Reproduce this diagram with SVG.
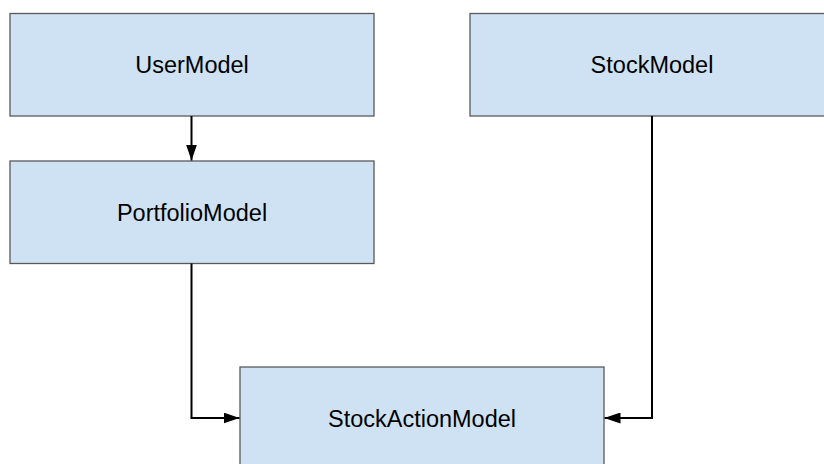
<svg xmlns="http://www.w3.org/2000/svg" width="824" height="464" viewBox="0 0 824 464">
  <style>
    .box { fill: #cfe2f3; stroke: #595959; stroke-width: 1.3; }
    .label { font-family: "Liberation Sans", Arial, sans-serif; font-size: 23.5px; fill: #000000; text-anchor: middle; }
    .edge { fill: none; stroke: #000000; stroke-width: 2; }
  </style>
  <defs>
    <marker id="arrow" viewBox="0 0 16 11" refX="16" refY="5.5" markerWidth="16" markerHeight="11" markerUnits="userSpaceOnUse" orient="auto">
      <path d="M0,0 L16,5.5 L0,11 Z" fill="#000000"/>
    </marker>
  </defs>
  <rect width="824" height="464" fill="#ffffff"/>

  <g id="UserModel">
    <rect class="box" x="10" y="13.5" width="364" height="102.5"/>
    <text class="label" x="192" y="73">UserModel</text>
  </g>

  <g id="PortfolioModel">
    <rect class="box" x="10" y="161" width="364" height="102.5"/>
    <text class="label" x="192" y="220.5">PortfolioModel</text>
  </g>

  <g id="StockModel">
    <rect class="box" x="470" y="13.5" width="364" height="102.5"/>
    <text class="label" x="652" y="73">StockModel</text>
  </g>

  <g id="StockActionModel">
    <rect class="box" x="240" y="367" width="364" height="102.5"/>
    <text class="label" x="422" y="426.5">StockActionModel</text>
  </g>

  <g id="connectors">
    <path class="edge" d="M191.5,116 L191.5,160.5" marker-end="url(#arrow)"/>
    <path class="edge" d="M191.5,263.5 L191.5,418 L239.5,418" marker-end="url(#arrow)"/>
    <path class="edge" d="M652,116 L652,418 L604.5,418" marker-end="url(#arrow)"/>
  </g>
</svg>
